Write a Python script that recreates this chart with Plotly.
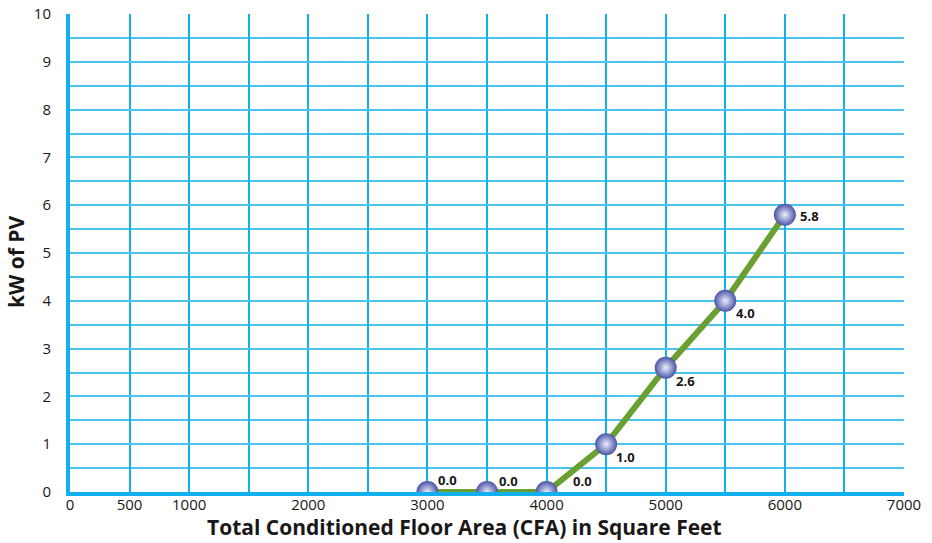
import plotly.graph_objects as go

# Required PV capacity by total conditioned floor area
cfa_sqft = [3000, 3500, 4000, 4500, 5000, 5500, 6000]
kw_pv = [0.0, 0.0, 0.0, 1.0, 2.6, 4.0, 5.8]

x_tick_vals = [0, 500, 1000, 1500, 2000, 2500, 3000, 3500, 4000, 4500, 5000, 5500, 6000, 6500, 7000]
x_tick_text = ["0", "500", "1000", "", "2000", "", "3000", "", "4000", "", "5000", "", "6000", "", "7000"]
y_tick_vals = list(range(0, 11))

# pixel offsets for the value labels next to each marker
label_dx = [20, 21, 36, 19, 20, 20, 25]
label_dy = [12, 11, 11, -13, -13, -12, -1]

FONT = "Open Sans"
TEXT = "#1a1718"
GRID_V = "#12b0ee"
GRID_H = "#4cc4f0"

fig = go.Figure()
fig.add_trace(go.Scatter(
    x=cfa_sqft, y=kw_pv, mode="lines+markers",
    line=dict(color="#6a9f32", width=6),
    marker=dict(size=22, color="#4a54a6",
                gradient=dict(type="radial", color="#eceffc"),
                line=dict(width=0)),
    hoverinfo="x+y", showlegend=False,
))

for x, y, dx, dy in zip(cfa_sqft, kw_pv, label_dx, label_dy):
    fig.add_annotation(x=x, y=y, text=f"<b>{y:.1f}</b>", showarrow=False,
                       xshift=dx, yshift=dy,
                       font=dict(family=FONT, size=13, color=TEXT))

# axis titles
fig.add_annotation(xref="paper", yref="paper", x=0.4736, y=0, yshift=-35,
                   xanchor="center", yanchor="middle", showarrow=False,
                   text="<b>Total Conditioned Floor Area (CFA) in Square Feet</b>",
                   font=dict(family=FONT, size=21, color=TEXT))
fig.add_annotation(xref="paper", yref="paper", x=0, xshift=-54, y=0.481,
                   xanchor="center", yanchor="middle", showarrow=False, textangle=-90,
                   text="<b>kW of PV</b>",
                   font=dict(family=FONT, size=21, color=TEXT))

fig.update_layout(
    width=932, height=543,
    margin=dict(l=70, r=28, t=14, b=51, autoexpand=False),
    paper_bgcolor="white", plot_bgcolor="white",
    font=dict(family=FONT, color=TEXT),
    xaxis=dict(
        range=[0, 7000], tickmode="array", tickvals=x_tick_vals, ticktext=x_tick_text,
        showgrid=True, gridcolor=GRID_V, gridwidth=2,
        showline=True, linecolor="#12b0ee", linewidth=4,
        zeroline=False, ticks="", tickfont=dict(size=15), ticklabelstandoff=-4,
        automargin=False,
    ),
    yaxis=dict(
        range=[0, 10], tickmode="array", tickvals=y_tick_vals,
        showgrid=True, gridcolor=GRID_H, gridwidth=2,
        minor=dict(dtick=0.5, showgrid=True, gridcolor=GRID_H, gridwidth=2),
        showline=True, linecolor="#12b0ee", linewidth=4,
        zeroline=False, ticks="", tickfont=dict(size=15), ticklabelstandoff=12,
        automargin=False,
    ),
)

fig.write_html("out.html")
